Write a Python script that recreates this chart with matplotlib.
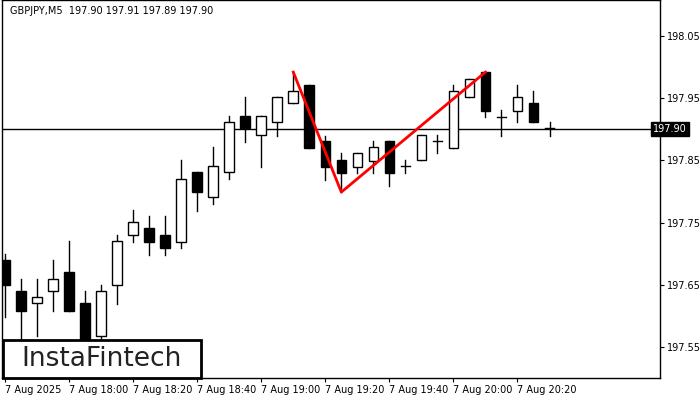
import matplotlib
matplotlib.use("Agg")
import matplotlib.pyplot as plt
from matplotlib.patches import Rectangle

# OHLC, one M5 candle each, from 17:40
opens = [197.690, 197.640, 197.621, 197.640, 197.671, 197.621, 197.568, 197.650, 197.730, 197.741,
         197.730, 197.719, 197.831, 197.791, 197.831, 197.921, 197.891, 197.912, 197.942, 197.971,
         197.881, 197.851, 197.839, 197.849, 197.881, 197.841, 197.851, 197.881, 197.870, 197.952,
         197.992, 197.920, 197.929, 197.942, 197.902]
highs = [197.700, 197.659, 197.659, 197.690, 197.720, 197.640, 197.650, 197.730, 197.770, 197.761,
         197.761, 197.851, 197.831, 197.872, 197.921, 197.952, 197.921, 197.952, 197.992, 197.971,
         197.889, 197.862, 197.862, 197.881, 197.881, 197.851, 197.891, 197.891, 197.971, 197.981,
         197.992, 197.931, 197.971, 197.962, 197.912]
lows = [197.598, 197.561, 197.568, 197.608, 197.608, 197.537, 197.561, 197.619, 197.719, 197.698,
        197.698, 197.709, 197.769, 197.780, 197.820, 197.880, 197.839, 197.889, 197.942, 197.870,
        197.818, 197.799, 197.830, 197.830, 197.809, 197.830, 197.851, 197.862, 197.870, 197.952,
        197.920, 197.889, 197.912, 197.912, 197.889]
closes = [197.650, 197.608, 197.630, 197.659, 197.608, 197.553, 197.640, 197.720, 197.751, 197.719,
          197.709, 197.820, 197.799, 197.841, 197.912, 197.902, 197.921, 197.952, 197.962, 197.870,
          197.839, 197.830, 197.862, 197.872, 197.830, 197.841, 197.891, 197.881, 197.962, 197.981,
          197.929, 197.920, 197.952, 197.912, 197.902]

time_labels = ["7 Aug 2025", "7 Aug 18:00", "7 Aug 18:20", "7 Aug 18:40", "7 Aug 19:00",
               "7 Aug 19:20", "7 Aug 19:40", "7 Aug 20:00", "7 Aug 20:20"]
price_ticks = [198.05, 197.95, 197.85, 197.75, 197.65, 197.55]
last_price = 197.90

# pattern line: (candle index, price)
pattern_x = [18, 21, 30]
pattern_y = [197.992, 197.799, 197.992]

fig = plt.figure(figsize=(7, 4), dpi=100)
ax = fig.add_axes([2 / 700, 22 / 400, 658 / 700, 378 / 400])

w = 0.6
for i, (o, h, l, c) in enumerate(zip(opens, highs, lows, closes)):
    bull = c >= o
    ax.plot([i, i], [l, h], color="black", lw=1, zorder=2)
    bottom = min(o, c)
    height = abs(c - o)
    if height < 0.0005:
        ax.plot([i - w / 2, i + w / 2], [o, o], color="black", lw=1, zorder=3)
    else:
        ax.add_patch(Rectangle((i - w / 2, bottom), w, height,
                               facecolor="white" if bull else "black",
                               edgecolor="black", lw=1, zorder=3))

ax.axhline(last_price, color="black", lw=1, zorder=1)
ax.plot(pattern_x, pattern_y, color="red", lw=2, zorder=4)

ax.set_xlim(-0.19, 40.9)
ax.set_ylim(197.500, 198.108)

ax.yaxis.tick_right()
ax.set_yticks(price_ticks)
ax.set_yticklabels([f"{p:.2f}" for p in price_ticks], fontsize=7)
ax.set_xticks(range(0, 4 * len(time_labels), 4))
ax.set_xticklabels(time_labels, fontsize=7, ha="left")
ax.tick_params(length=3, pad=2)
for s in ax.spines.values():
    s.set_linewidth(1)

ax.text(0.99, last_price, f"{last_price:.2f}", transform=ax.get_yaxis_transform(),
        fontsize=7, color="white", va="center", ha="left",
        bbox=dict(boxstyle="square,pad=0.2", fc="black", ec="black"), clip_on=False)

ax.text(0.012, 0.985, "GBPJPY,M5  197.90 197.91 197.89 197.90", transform=ax.transAxes,
        fontsize=7, va="top", ha="left")

fig.patches.append(Rectangle((3 / 700, 22 / 400), 198 / 700, 38 / 400, transform=fig.transFigure,
                             facecolor="white", edgecolor="black", lw=2, zorder=5))
fig.text(102 / 700, 41 / 400, "InstaFintech", fontsize=19, ha="center", va="center",
         color="#222222", zorder=6)

fig.savefig("out.png", dpi=100)
